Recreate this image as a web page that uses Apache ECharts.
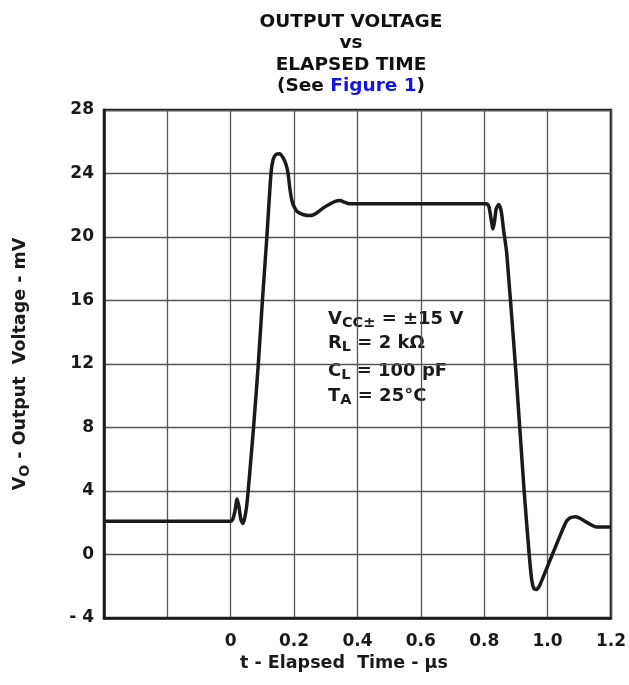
<!DOCTYPE html>
<html lang="en">

<head>
    <meta charset="UTF-8">
    <title>Output Voltage vs Elapsed Time</title>
    <script src="https://cdn.jsdelivr.net/npm/echarts@6/dist/echarts.min.js"></script>
    <style>
        html,
        body {
            width: 100%;
            height: 100%;
            margin: 0px;
            padding: 0px;
            background: #fff;
        }
    </style>
</head>

<body>
    <div id="chart" style="width: 629px; height: 685px;"></div>
    <script>
        // 数据：时间 (us) 和输出电压 (mV)
        var timeUs = [
            -0.4, 0.0, 0.006, 0.013, 0.02, 0.026, 0.032, 0.038, 0.044, 0.05, 0.055,
            0.072, 0.087, 0.1, 0.114, 0.127, 0.134, 0.143, 0.155, 0.165, 0.174,
            0.181, 0.187, 0.193, 0.2, 0.21, 0.23, 0.252, 0.27, 0.29, 0.31, 0.33,
            0.345, 0.358, 0.372, 0.5, 0.6, 0.7, 0.808, 0.815, 0.822, 0.827,
            0.832, 0.838, 0.846, 0.854, 0.862, 0.871, 0.9, 0.926, 0.942, 0.95,
            0.957, 0.965, 0.974, 1.015, 1.057, 1.07, 1.089, 1.105, 1.13, 1.15, 1.2
        ];
        var voltageMv = [
            2.1, 2.1, 2.2, 2.7, 3.5, 3.0, 2.2, 1.95, 2.3, 3.0, 4.0,
            8.0, 12.0, 16.0, 20.0, 24.0, 24.9, 25.2, 25.25, 25.0, 24.6,
            24.0, 23.0, 22.3, 21.9, 21.6, 21.4, 21.35, 21.5, 21.8, 22.05, 22.25,
            22.3, 22.2, 22.1, 22.1, 22.1, 22.1, 22.1, 21.9, 21.1, 20.5,
            20.9, 21.8, 22.05, 21.6, 20.3, 19.0, 11.5, 4.0, 0.0, -1.6,
            -2.15, -2.2, -2.0, 0.0, 2.0, 2.3, 2.38, 2.25, 1.95, 1.75, 1.73
        ];

        var xTickLabels = ['', '', '0', '0.2', '0.4', '0.6', '0.8', '1.0', '1.2'];
        var yTickLabels = ['- 4', '0', '4', '8', '12', '16', '20', '24', '28'];

        var FONT = "'DejaVu Sans', 'Liberation Sans', Arial, sans-serif";
        var INK = '#1a1a1a';

        var lineData = timeUs.map(function (t, i) {
            return [t, voltageMv[i]];
        });

        // 条件说明文字（下标用 rich）
        function noteText(main, sub, rest, cy) {
            return {
                type: 'text',
                left: 328,
                top: cy - 12,
                style: {
                    text: '{m|' + main + '}{s|' + sub + '}{m|' + rest + '}',
                    fill: INK,
                    rich: {
                        m: { fontFamily: FONT, fontSize: 18, fontWeight: 'bold', lineHeight: 24, fill: INK },
                        s: { fontFamily: FONT, fontSize: 14.5, fontWeight: 'bold', lineHeight: 14, verticalAlign: 'bottom', fill: INK }
                    }
                }
            };
        }

        var chart = echarts.init(document.getElementById('chart'));

        var option = {
            backgroundColor: '#fff',
            animation: false,
            title: {
                text: 'OUTPUT VOLTAGE\nvs\nELAPSED TIME\n(See {b|Figure 1})',
                left: 346,
                top: 6,
                textAlign: 'center',
                textStyle: {
                    fontFamily: FONT,
                    fontSize: 18.5,
                    fontWeight: 'bold',
                    color: '#111',
                    lineHeight: 21.5,
                    rich: {
                        b: { fontFamily: FONT, fontSize: 18.5, fontWeight: 'bold', color: '#1414e6', lineHeight: 21.5 }
                    }
                }
            },
            grid: {
                left: 104,
                right: 13,
                top: 110,
                bottom: 67,
                show: true,
                borderColor: INK,
                borderWidth: 2.5,
                containLabel: false
            },
            xAxis: {
                type: 'value',
                min: -0.4,
                max: 1.2,
                interval: 0.2,
                name: 't - Elapsed  Time - μs',
                nameLocation: 'middle',
                nameGap: 32,
                nameTextStyle: {
                    fontFamily: FONT,
                    fontSize: 17.5,
                    fontWeight: 'bold',
                    color: INK,
                    padding: [0, 27, 0, 0]
                },
                axisLine: { show: true, onZero: false, lineStyle: { color: INK, width: 2.5 } },
                axisTick: { show: false },
                axisLabel: {
                    margin: 15,
                    fontFamily: FONT,
                    fontSize: 17,
                    fontWeight: 'bold',
                    color: INK,
                    formatter: function (v, i) {
                        return xTickLabels[i] !== undefined ? xTickLabels[i] : '';
                    }
                },
                splitLine: { show: true, lineStyle: { color: '#555', width: 1.3 } }
            },
            yAxis: {
                type: 'value',
                min: -4,
                max: 28,
                interval: 4,
                name: '{v|V}{s|O}{v| - Output  Voltage - mV}',
                nameLocation: 'middle',
                nameGap: 72,
                nameRotate: 90,
                nameTextStyle: {
                    fontFamily: FONT,
                    fontSize: 17.5,
                    fontWeight: 'bold',
                    color: INK,
                    rich: {
                        v: { fontFamily: FONT, fontSize: 17.5, fontWeight: 'bold', lineHeight: 24, color: INK },
                        s: { fontFamily: FONT, fontSize: 14, fontWeight: 'bold', lineHeight: 14, verticalAlign: 'bottom', color: INK }
                    }
                },
                axisLine: { show: true, onZero: false, lineStyle: { color: INK, width: 2.5 } },
                axisTick: { show: false },
                axisLabel: {
                    margin: 10,
                    fontFamily: FONT,
                    fontSize: 17,
                    fontWeight: 'bold',
                    color: INK,
                    formatter: function (v, i) {
                        return yTickLabels[i] !== undefined ? yTickLabels[i] : '';
                    }
                },
                splitLine: { show: true, lineStyle: { color: '#555', width: 1.3 } }
            },
            graphic: [
                noteText('V', 'CC±', ' = ±15 V', 322),
                noteText('R', 'L', ' = 2 kΩ', 346),
                noteText('C', 'L', ' = 100 pF', 374),
                noteText('T', 'A', ' = 25°C', 399)
            ],
            series: [{
                type: 'line',
                data: lineData,
                smooth: 0.2,
                showSymbol: false,
                lineStyle: { color: INK, width: 3.5 },
                z: 5
            }]
        };

        chart.setOption(option);
    </script>
</body>

</html>
